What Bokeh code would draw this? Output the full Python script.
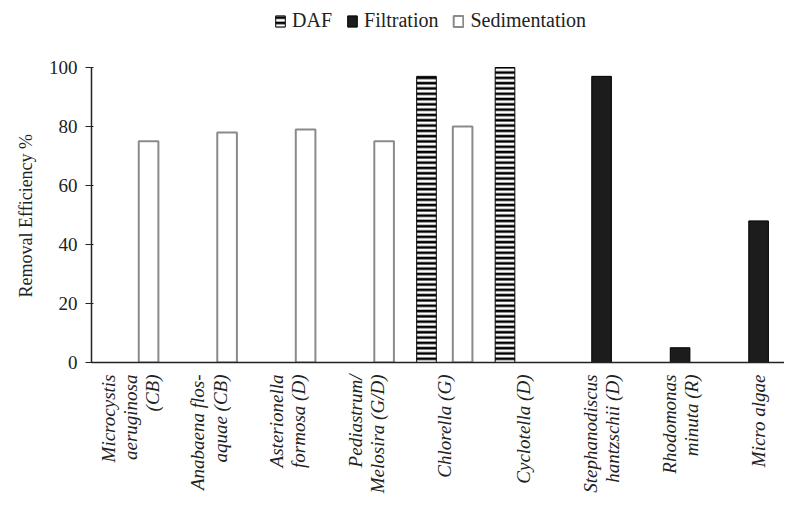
import math
from bokeh.plotting import figure
from bokeh.models import ColumnDataSource, Range1d, FixedTicker, Legend, LegendItem, Title
from bokeh.transform import dodge
from bokeh.embed import file_html
from bokeh.resources import INLINE

categories = [
    "Microcystis\naeruginosa\n(CB)",
    "Anabaena flos-\naquae (CB)",
    "Asterionella\nformosa (D)",
    "Pediastrum/\nMelosira (G/D)",
    "Chlorella (G)",
    "Cyclotella (D)",
    "Stephanodiscus\nhantzschii (D)",
    "Rhodomonas\nminuta (R)",
    "Micro algae",
]
series_names = ["DAF", "Filtration", "Sedimentation"]
daf = [None, None, None, None, 97, 100, None, None, None]
filtration = [None, None, None, None, None, None, 97, 5, 48]
sedimentation = [75, 78, 79, 75, 80, None, None, None, None]
y_ticks = [0, 20, 40, 60, 80, 100]
y_title = "Removal Efficiency %"


def make_source(vals):
    xs = [i for i, v in enumerate(vals) if v is not None]
    ys = [v for v in vals if v is not None]
    return ColumnDataSource(dict(x=xs, y=ys))


SERIF = "Liberation Serif"

p = figure(
    frame_width=693, frame_height=354,
    x_range=Range1d(-0.497, 8.33), y_range=Range1d(0, 120),
    output_backend="svg", toolbar_location=None,
    min_border_left=91, min_border_right=0, min_border_top=8, min_border_bottom=0,
)
p.outline_line_color = None
p.xgrid.visible = False
p.ygrid.visible = False

bw = 0.25
off = 0.23
r_daf = p.vbar(x=dodge("x", -off), top="y", width=bw, source=make_source(daf),
               fill_color="white", line_color="black", line_width=1,
               hatch_pattern="horizontal_line", hatch_color="black",
               hatch_scale=5.3, hatch_weight=2.6)
r_filt = p.vbar(x="x", top="y", width=bw, source=make_source(filtration),
                fill_color="#1c1c1c", line_color="black", line_width=1)
r_sed = p.vbar(x=dodge("x", off), top="y", width=bw, source=make_source(sedimentation),
               fill_color="white", line_color="#8a8a8a", line_width=2)

# y axis
ya = p.yaxis[0]
ya.bounds = (0, 100)
ya.ticker = FixedTicker(ticks=y_ticks, minor_ticks=[])
ya.major_label_text_font = SERIF
ya.major_label_text_font_size = "19px"
ya.major_label_text_color = "#222222"
ya.major_label_standoff = 8
ya.major_tick_out = 6
ya.major_tick_in = 2
ya.axis_line_color = "#222222"
ya.axis_line_width = 1.5
ya.major_tick_line_color = "#222222"

# y axis title, placed along the 0-100 span of the axis
p.add_layout(Title(
    text=y_title, align="left", offset=65, standoff=20,
    text_font=SERIF, text_font_size="18px", text_font_style="normal",
    text_color="#222222",
), "left")

# x axis
xa = p.xaxis[0]
xa.ticker = FixedTicker(ticks=list(range(len(categories))), minor_ticks=[])
xa.major_label_overrides = {i: c for i, c in enumerate(categories)}
xa.major_label_orientation = math.pi / 2
xa.major_label_text_font = SERIF
xa.major_label_text_font_style = "italic"
xa.major_label_text_font_size = "19px"
xa.major_label_text_color = "#222222"
xa.major_label_text_line_height = 1.05
xa.major_label_standoff = 12
xa.major_tick_out = 0
xa.major_tick_in = 0
xa.axis_line_color = "#222222"
xa.axis_line_width = 1.5

legend = Legend(
    items=[
        LegendItem(label=series_names[0], renderers=[r_daf]),
        LegendItem(label=series_names[1], renderers=[r_filt]),
        LegendItem(label=series_names[2], renderers=[r_sed]),
    ],
    orientation="horizontal", location=(183, 330),
    margin=0, padding=3, border_line_color=None, background_fill_alpha=0,
    label_text_font=SERIF, label_text_font_size="20px", label_text_color="#222222",
    glyph_width=12, glyph_height=14, spacing=14, label_standoff=6,
)
p.add_layout(legend)

open("out.html", "w").write(file_html(p, INLINE))
